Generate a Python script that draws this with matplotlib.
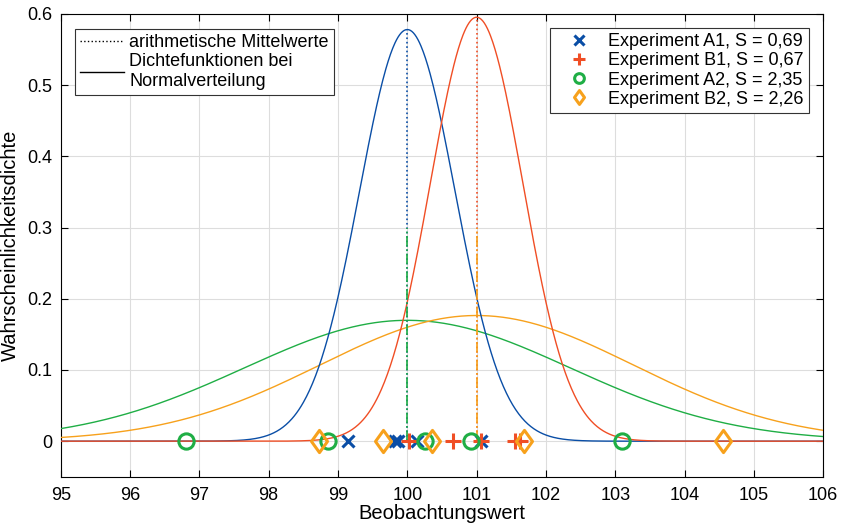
import numpy as np
import matplotlib
matplotlib.use('Agg')
import matplotlib.pyplot as plt
from matplotlib.lines import Line2D
from matplotlib.path import Path

plt.rcParams['font.family'] = ['Liberation Sans', 'DejaVu Sans']

# Messwerte der vier Experimente
a1 = [99.15, 99.82, 99.87, 100.14, 101.06]
b1 = [100.03, 100.66, 101.06, 101.56, 101.62]
a2 = [96.81, 98.86, 100.26, 100.92, 103.10]
b2 = [98.73, 99.65, 100.35, 101.69, 104.55]

means = [100.0, 101.0, 100.0, 101.0]
stds = [0.69, 0.67, 2.35, 2.26]
labels = ['Experiment A1, S = 0,69', 'Experiment B1, S = 0,67',
          'Experiment A2, S = 2,35', 'Experiment B2, S = 2,26']

colors = ['#0a4ea6', '#f04e25', '#1fae45', '#f7a11c']
diamond = Path([(0, 1), (0.72, 0), (0, -1), (-0.72, 0), (0, 1)],
               [Path.MOVETO, Path.LINETO, Path.LINETO, Path.LINETO, Path.CLOSEPOLY])
markers = ['x', '+', 'o', diamond]
msizes = [9, 12, 11, 16]
leg_sizes = [7, 9, 7, 10]

fig = plt.figure(figsize=(8.46, 5.28), dpi=100)
ax = fig.add_axes([0.0718, 0.097, 0.9012, 0.8765])

x = np.linspace(95, 106, 1000)
order = [2, 3, 0, 1]
for i in order:
    y = np.exp(-0.5 * ((x - means[i]) / stds[i]) ** 2) / (stds[i] * np.sqrt(2 * np.pi))
    ax.plot(x, y, color=colors[i], lw=1.0, zorder=3)

# Mittelwertlinien
for i in [0, 1]:
    peak = 1 / (stds[i] * np.sqrt(2 * np.pi))
    ax.plot([means[i], means[i]], [0, peak], ':', color=colors[i], lw=1.2, zorder=3)
for i in [2, 3]:
    ax.plot([means[i], means[i]], [0, 0.3], '-.', color=colors[i], lw=1.2, zorder=3)

data = [a1, b1, a2, b2]
handles = []
for i, d in enumerate(data):
    ax.plot(d, np.zeros(len(d)), linestyle='none', marker=markers[i], color=colors[i],
            markersize=msizes[i], markeredgewidth=2.2, markerfacecolor='none', zorder=4)
    handles.append(Line2D([], [], linestyle='none', marker=markers[i], color=colors[i],
                          markersize=leg_sizes[i], markeredgewidth=2.2, markerfacecolor='none'))

ax.set_xlim(95, 106)
ax.set_ylim(-0.05, 0.6)
ax.set_xticks(np.arange(95, 107, 1))
ax.set_yticks(np.arange(0, 0.61, 0.1))
ax.set_yticklabels(['0', '0.1', '0.2', '0.3', '0.4', '0.5', '0.6'])
ax.grid(True, color='#dddddd', lw=0.8)
ax.set_axisbelow(True)
ax.tick_params(direction='in', top=True, right=True, length=5, labelsize=13, width=0.8)
ax.tick_params(axis='x', pad=7)
ax.tick_params(axis='y', pad=6)
for s in ax.spines.values():
    s.set_linewidth(0.8)
ax.set_xlabel('Beobachtungswert', fontsize=14.5, labelpad=0)
ax.set_ylabel('Wahrscheinlichkeitsdichte', fontsize=14.5, labelpad=5)

leg1 = ax.legend([Line2D([], [], color='k', ls=':', lw=1), Line2D([], [], color='k', lw=1)],
                 ['arithmetische Mittelwerte', 'Dichtefunktionen bei\nNormalverteilung'],
                 loc='upper left', bbox_to_anchor=(0.0188, 0.968), borderaxespad=0,
                 fontsize=13, fancybox=False, framealpha=1, edgecolor='#333333',
                 handlelength=2.4, borderpad=0.3, labelspacing=0.1, handletextpad=0.3)
leg1.get_frame().set_linewidth(0.8)
ax.add_artist(leg1)
leg2 = ax.legend(handles, labels, loc='upper right', bbox_to_anchor=(0.981, 0.970),
                 borderaxespad=0, fontsize=13, fancybox=False, framealpha=1,
                 edgecolor='#333333', handlelength=2.6, borderpad=0.3,
                 labelspacing=0.12, handletextpad=0.3)
leg2.get_frame().set_linewidth(0.8)

fig.savefig('out.png', dpi=100)
